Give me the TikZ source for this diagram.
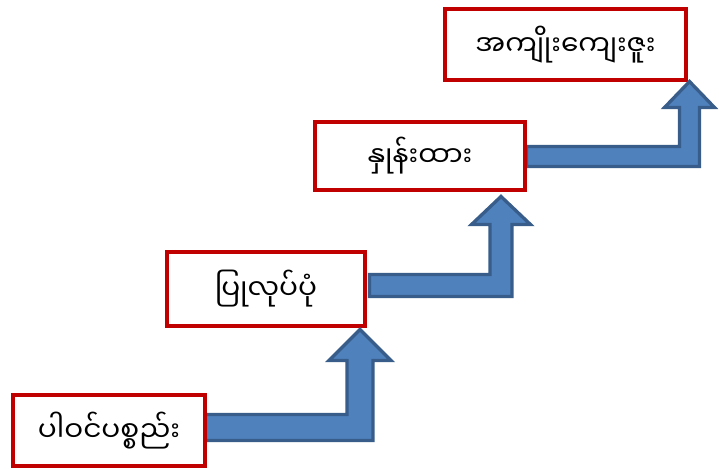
\documentclass[tikz,border=0pt]{standalone}
\usepackage{fontspec}
\newfontfamily\mmfont[Script=Myanmar]{Noto Sans Myanmar UI}
\usetikzlibrary{calc}
\definecolor{boxred}{HTML}{C00000}
\definecolor{arrowblue}{HTML}{4F81BD}
\definecolor{arrowline}{HTML}{385D8A}
\def\steparrow(#1)(#2)(#3:#4:#5){\draw[steparrow] let \p1=(#1), \p2=(#2) in
	(\x1,{\y1+#3pt}) -- ({\x2-#3pt},{\y1+#3pt}) -- ({\x2-#3pt},{\y2-#5pt}) -- ({\x2-#4pt},{\y2-#5pt}) -- (\x2,\y2)
	-- ({\x2+#4pt},{\y2-#5pt}) -- ({\x2+#3pt},{\y2-#5pt}) -- ({\x2+#3pt},{\y1-#3pt}) -- (\x1,{\y1-#3pt}) -- cycle;}

\begin{document}
\begin{tikzpicture}[x=1pt, y=-1pt,
		stepbox/.style={draw=boxred, line width=4pt, fill=white, outer sep=0pt, inner sep=0pt, font=\mmfont\fontsize{28}{33}\selectfont},
		steparrow/.style={draw=arrowline, fill=arrowblue, line width=3.3pt, line join=miter}]
		%%%%% START %%%%%
		
		\useasboundingbox (0, 0) rectangle (719, 469);
		
		\node[stepbox, minimum width=192pt, minimum height=71pt] (b1) at (109, 430.5) {ပါဝင်ပစ္စည်း};
		\node[stepbox, minimum width=198pt, minimum height=74pt] (b2) at (266, 289) {ပြုလုပ်ပုံ};
		\node[stepbox, minimum width=210pt, minimum height=68pt] (b3) at (420, 156) {နှုန်းထား};
		\node[stepbox, minimum width=241pt, minimum height=71pt] (b4) at (565.5, 44.5) {အကျိုးကျေးဇူး};
		
		\coordinate (a1) at ($(b1.east)+(0.5, -3)$);
		\coordinate (t1) at ($(b2.south east)+(-5, 3.5)$);
		\coordinate (a2) at ($(b2.east)+(4.5, -3.5)$);
		\coordinate (t2) at ($(b3.south east)+(-24, 6.5)$);
		\coordinate (a3) at ($(b3.east)+(1.5, 0.5)$);
		\coordinate (t3) at ($(b4.south east)+(3.5, 1.5)$);
		
		\steparrow(a1)(t1)(13:31:31)
		\steparrow(a2)(t2)(11:29.5:28)
		\steparrow(a3)(t3)(10:25:26)
		
		% boxes over the bar ends
		\draw[boxred, line width=4pt] (b1.north east) -- (b1.south east);
		\draw[boxred, line width=4pt] (b2.north east) -- (b2.south east);
		\draw[boxred, line width=4pt] (b3.north east) -- (b3.south east);
		
		%%%%% END %%%%%
\end{tikzpicture}
\end{document}
